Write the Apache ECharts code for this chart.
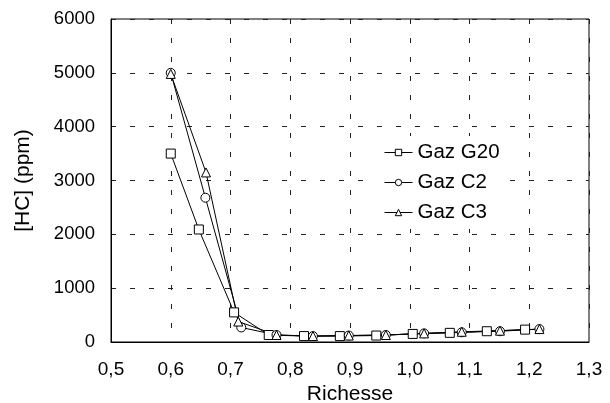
<!DOCTYPE html>
<html>
<head>
<meta charset="utf-8">
<script src="https://cdn.jsdelivr.net/npm/echarts@6/dist/echarts.min.js"></script>
<style>
  html, body { margin: 0; padding: 0; background: #fff; }
  #chart { width: 610px; height: 403px; }
</style>
</head>
<body>
<div id="chart"></div>
<script>
// richesse (x) et [HC] (y) pour chaque gaz
var g20X = [0.60, 0.647, 0.706, 0.764, 0.823, 0.883, 0.944, 1.005, 1.067, 1.129, 1.193];
var g20Y = [3500, 2090, 550, 130, 110, 110, 120, 150, 170, 200, 230];
var c2X = [0.60, 0.658, 0.718, 0.777, 0.838, 0.898, 0.960, 1.024, 1.087, 1.151, 1.217];
var c2Y = [5000, 2680, 270, 130, 110, 120, 130, 160, 180, 200, 240];
var c3X = [0.60, 0.659, 0.713, 0.777, 0.838, 0.898, 0.960, 1.024, 1.087, 1.151, 1.217];
var c3Y = [4980, 3150, 380, 130, 110, 120, 130, 160, 190, 210, 240];

function pairs(xs, ys) {
  return xs.map(function (x, i) { return [x, ys[i]]; });
}

var font = "Liberation Sans";
var gridLine = { show: true, lineStyle: { color: "#222", type: [5, 14], width: 1 } };

var mkSeries = function (name, xs, ys, symbol, size) {
  return {
    name: name,
    type: "line",
    data: pairs(xs, ys),
    symbol: symbol,
    symbolSize: size,
    showAllSymbol: true,
    lineStyle: { color: "#000", width: 1 },
    itemStyle: { color: "#fff", borderColor: "#000", borderWidth: 1 },
    emphasis: { disabled: true },
    animation: false
  };
};

var chart = echarts.init(document.getElementById("chart"));
chart.setOption({
  animation: false,
  textStyle: { fontFamily: font },
  grid: {
    left: 111, right: 21, top: 19, bottom: 61,
    outerBoundsMode: "none",
    containLabel: false,
    show: true, borderColor: "#000", borderWidth: 1
  },
  legend: {
    orient: "vertical",
    left: 374, top: 136,
    padding: [6, 6, 6, 10],
    backgroundColor: "#fff",
    itemWidth: 28, itemHeight: 8, itemGap: 9,
    itemStyle: { color: "#fff", borderColor: "#000", borderWidth: 1 },
    lineStyle: { color: "#000", width: 1 },
    textStyle: { fontFamily: font, fontSize: 20.5, color: "#000" },
    data: ["Gaz G20", "Gaz C2", "Gaz C3"]
  },
  xAxis: {
    type: "value",
    min: 0.5, max: 1.3, interval: 0.1,
    name: "Richesse",
    nameLocation: "middle",
    nameGap: 37,
    nameTextStyle: { fontFamily: font, fontSize: 21, color: "#000" },
    axisLine: { show: true, onZero: false, lineStyle: { color: "#000" } },
    axisTick: { show: false },
    axisLabel: {
      fontFamily: font, fontSize: 19, color: "#000", margin: 18,
      formatter: function (v) { return v.toFixed(1).replace(".", ","); }
    },
    splitLine: gridLine
  },
  yAxis: {
    type: "value",
    min: 0, max: 6000, interval: 1000,
    name: "[HC] (ppm)",
    nameLocation: "middle",
    nameGap: 77,
    nameTextStyle: { fontFamily: font, fontSize: 21, color: "#000" },
    axisLine: { show: true, lineStyle: { color: "#000" } },
    axisTick: { show: false },
    axisLabel: {
      fontFamily: font, fontSize: 18.5, color: "#000", margin: 16,
      formatter: function (v) { return String(v); }
    },
    splitLine: gridLine
  },
  series: [
    mkSeries("Gaz G20", g20X, g20Y, "rect", 9),
    mkSeries("Gaz C2", c2X, c2Y, "circle", 9),
    mkSeries("Gaz C3", c3X, c3Y, "triangle", 9)
  ]
});
</script>
</body>
</html>
